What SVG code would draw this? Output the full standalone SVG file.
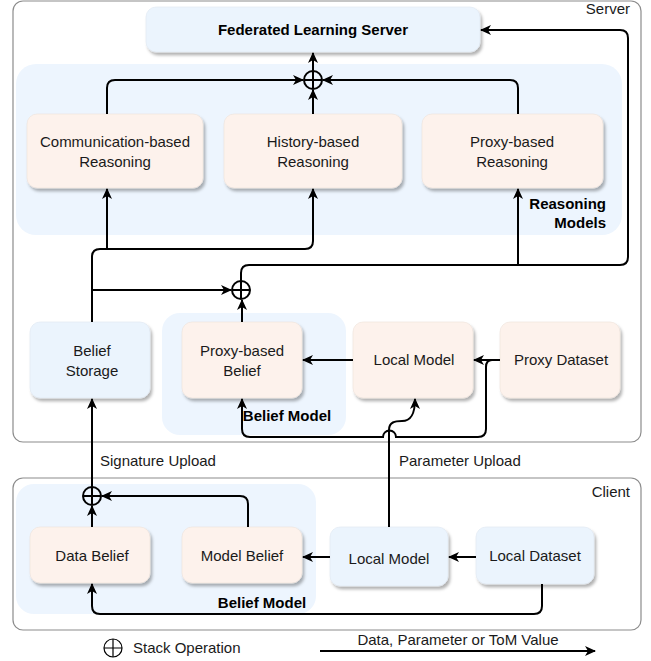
<svg xmlns="http://www.w3.org/2000/svg" width="651" height="661" viewBox="0 0 651 661">
<defs>
<filter id="sh" x="-10%" y="-10%" width="130%" height="140%">
<feDropShadow dx="2" dy="3" stdDeviation="1.5" flood-color="#000" flood-opacity="0.3"/>
</filter>
<marker id="arr" markerWidth="12" markerHeight="10" refX="10" refY="5" orient="auto" markerUnits="userSpaceOnUse">
<path d="M0,0 L11,5 L0,10 L3,5 Z" fill="#000"/>
</marker>
<style>
.cont{fill:#fff;stroke:#8c8c8c;stroke-width:1.2}
.reg{fill:#edf5fe;stroke:none}
.blue{fill:#ebf4fd;stroke:#dfe8f2;stroke-width:0.6;filter:url(#sh)}
.peach{fill:#fdf2ec;stroke:#efe2da;stroke-width:0.6;filter:url(#sh)}
.t{font-family:"Liberation Sans",Arial,sans-serif;font-size:15px;fill:#1a1a1a;text-anchor:middle}
.b{font-weight:bold;fill:#000}
.l{text-anchor:start}
.r{text-anchor:end}
.c{fill:none;stroke:#000;stroke-width:2;marker-end:url(#arr)}
.cn{fill:none;stroke:#000;stroke-width:2}
.op{fill:none;stroke:#000;stroke-width:2}
</style>
</defs>

<g id="server-container">
<rect class="cont" x="13" y="1" width="628" height="441" rx="10"/>
<text class="t r" x="630" y="14">Server</text>
</g>
<g id="client-container">
<rect class="cont" x="13" y="478" width="628" height="152" rx="10"/>
<text class="t r" x="630" y="497">Client</text>
</g>

<g id="reasoning-models-region">
<rect class="reg" x="16" y="64" width="606" height="171" rx="20"/>
<text class="t b r" x="606" y="209">Reasoning</text>
<text class="t b r" x="606" y="228">Models</text>
</g>
<g id="server-belief-model-region">
<rect class="reg" x="162" y="313" width="184" height="122" rx="18"/>
<text class="t b" x="287" y="421">Belief Model</text>
</g>
<g id="client-belief-model-region">
<rect class="reg" x="16" y="484" width="300" height="130" rx="18"/>
<text class="t b" x="262" y="608">Belief Model</text>
</g>

<g id="fl-server">
<rect class="blue" x="146" y="7" width="334" height="45" rx="10"/>
<text class="t b" x="313" y="35">Federated Learning Server</text>
</g>
<g id="comm-reasoning">
<rect class="peach" x="27" y="114" width="176" height="74" rx="10"/>
<text class="t" x="115" y="147">Communication-based</text>
<text class="t" x="115" y="167">Reasoning</text>
</g>
<g id="history-reasoning">
<rect class="peach" x="224" y="114" width="178" height="74" rx="10"/>
<text class="t" x="313" y="147">History-based</text>
<text class="t" x="313" y="167">Reasoning</text>
</g>
<g id="proxy-reasoning">
<rect class="peach" x="422" y="114" width="181" height="74" rx="10"/>
<text class="t" x="512" y="147">Proxy-based</text>
<text class="t" x="512" y="167">Reasoning</text>
</g>
<g id="belief-storage">
<rect class="blue" x="30" y="322" width="120" height="76" rx="10"/>
<text class="t" x="92" y="356">Belief</text>
<text class="t" x="92" y="376">Storage</text>
</g>
<g id="proxy-belief">
<rect class="peach" x="182" y="322" width="120" height="76" rx="10"/>
<text class="t" x="242" y="356">Proxy-based</text>
<text class="t" x="242" y="376">Belief</text>
</g>
<g id="server-local-model">
<rect class="peach" x="353" y="322" width="120" height="76" rx="10"/>
<text class="t" x="414" y="365">Local Model</text>
</g>
<g id="proxy-dataset">
<rect class="peach" x="500" y="322" width="120" height="76" rx="10"/>
<text class="t" x="561" y="365">Proxy Dataset</text>
</g>
<g id="data-belief">
<rect class="peach" x="30" y="527" width="120" height="56" rx="10"/>
<text class="t" x="92" y="561">Data Belief</text>
</g>
<g id="model-belief">
<rect class="peach" x="182" y="527" width="120" height="56" rx="10"/>
<text class="t" x="242" y="561">Model Belief</text>
</g>
<g id="client-local-model">
<rect class="blue" x="330" y="527" width="118" height="59" rx="10"/>
<text class="t" x="389" y="564">Local Model</text>
</g>
<g id="local-dataset">
<rect class="blue" x="476" y="527" width="118" height="57" rx="10"/>
<text class="t" x="535" y="561">Local Dataset</text>
</g>

<g id="stack-ops">
<g id="op-top"><circle class="op" cx="313" cy="80" r="9"/><path class="op" d="M304,80 H322 M313,71 V89"/></g>
<g id="op-mid"><circle class="op" cx="241" cy="290" r="9"/><path class="op" d="M232,290 H250 M241,281 V299"/></g>
<g id="op-client"><circle class="op" cx="92" cy="496" r="9"/><path class="op" d="M83,496 H101 M92,487 V505"/></g>
</g>

<g id="connectors">
<path class="c" d="M313,71 V53"/>
<path class="c" d="M107,114 V88 Q107,80 115,80 H303"/>
<path class="c" d="M518,114 V88 Q518,80 510,80 H323"/>
<path class="c" d="M313,114 V90"/>
<path class="c" d="M92,322 V257 Q92,249 100,249 H305 Q313,249 313,241 V189"/>
<path class="c" d="M107,249 V189"/>
<path class="c" d="M92,290 H231"/>
<path class="c" d="M242,322 V300"/>
<path class="c" d="M241,281 V273 Q241,265 249,265 H620 Q628,265 628,257 V38 Q628,30 620,30 H481"/>
<path class="c" d="M518,265 V189"/>
<path class="c" d="M500,360 H474"/>
<path class="c" d="M353,360 H303"/>
<path class="c" d="M492,360 Q486,360 486,367 V429 Q486,437 478,437 H396 A6.5,6.5 0 0 0 383,437 H250 Q242,437 242,429 V399"/>
<path class="c" d="M389,527 V430 C389,422 395,421 402,421 C410,421 415,416 415,399"/>
<path class="c" d="M92,487 V399"/>
<path class="c" d="M92,527 V506"/>
<path class="c" d="M248,527 V504 Q248,496 240,496 H102"/>
<path class="c" d="M330,557 H303"/>
<path class="c" d="M476,557 H449"/>
<path class="c" d="M542,584 V606 Q542,614 534,614 H100 Q92,614 92,606 V584"/>
</g>

<g id="edge-labels">
<text class="t l" x="100" y="466">Signature Upload</text>
<text class="t l" x="399" y="466">Parameter Upload</text>
</g>

<g id="legend">
<circle fill="none" stroke="#000" stroke-width="1.2" cx="113" cy="648" r="9"/>
<path fill="none" stroke="#000" stroke-width="1.2" d="M104,648 H122 M113,639 V657"/>
<text class="t l" x="133" y="653">Stack Operation</text>
<path class="c" d="M320,651 H595"/>
<text class="t" x="458" y="645">Data, Parameter or ToM Value</text>
</g>
</svg>
